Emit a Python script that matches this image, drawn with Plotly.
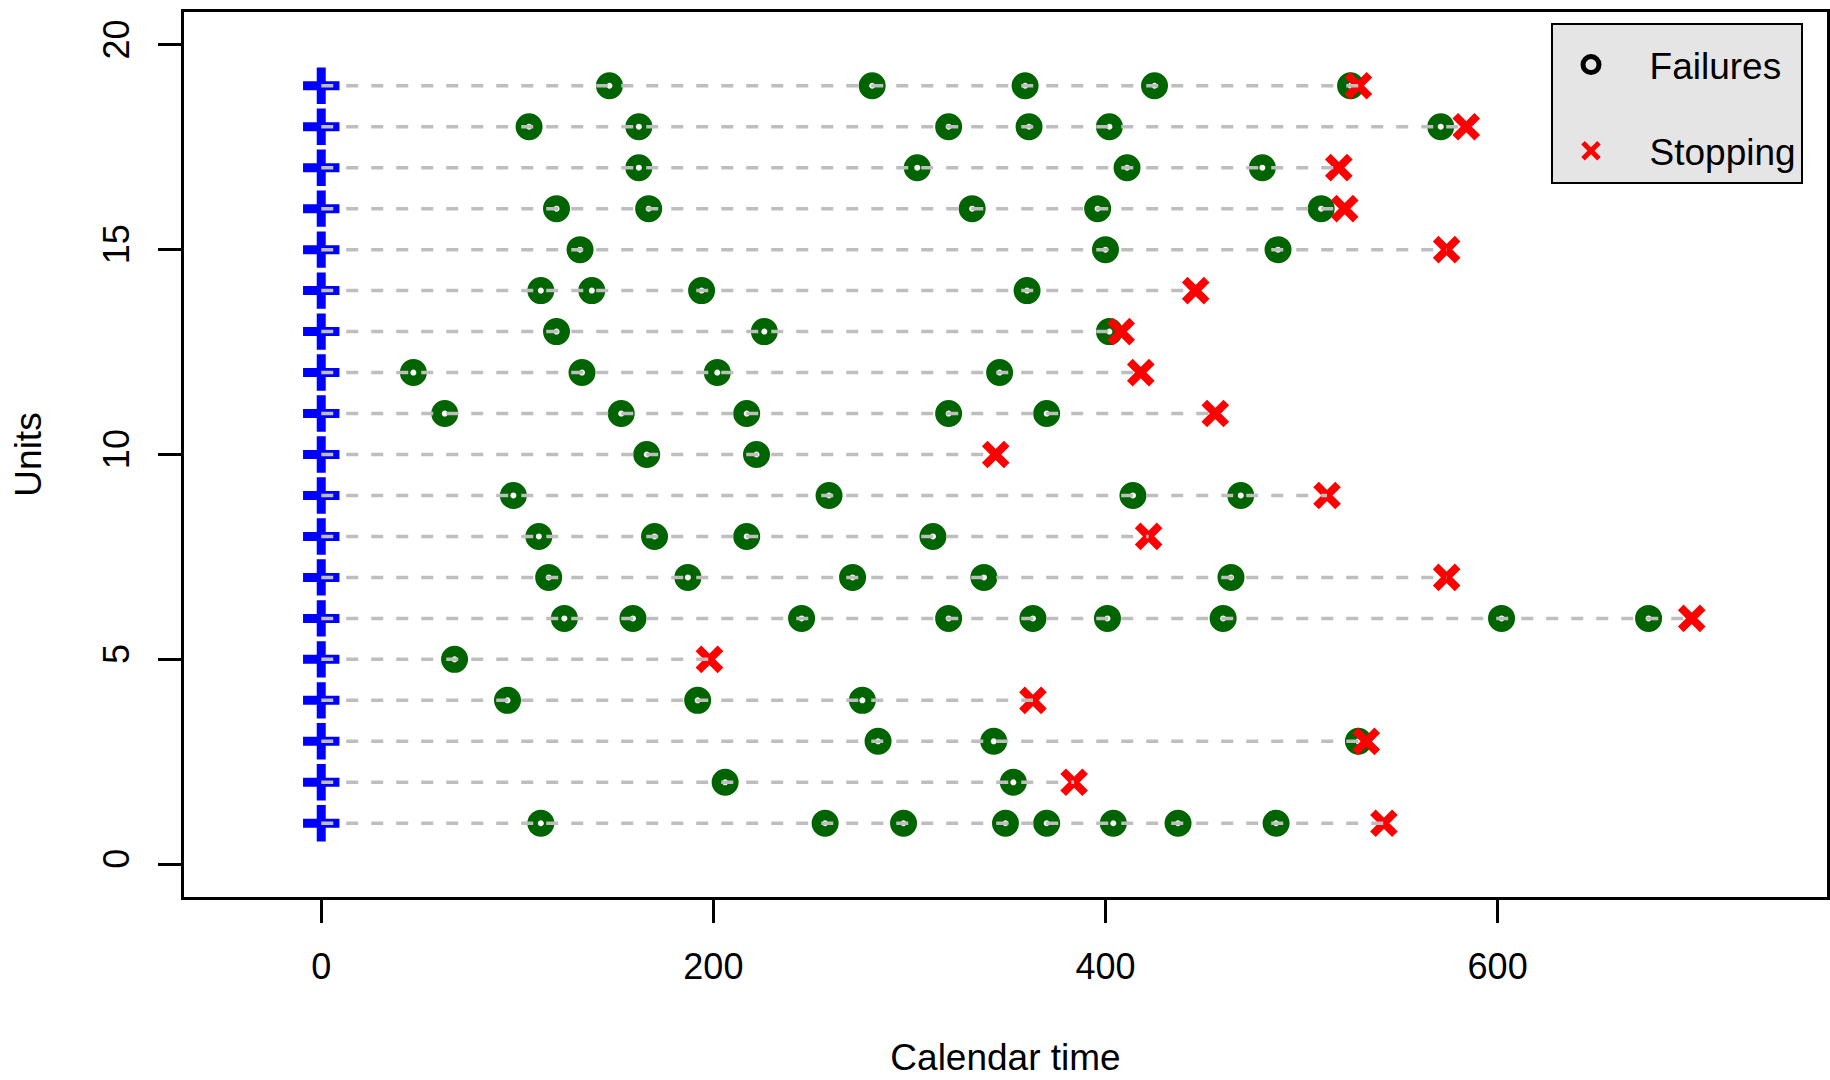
import plotly.graph_objects as go

# ---- data ----
units = list(range(1, 20))
start_times = [0] * 19
failure_times = [
    [112, 257, 297, 349, 370, 404, 437, 487],          # unit 1
    [206, 353],                                        # unit 2
    [284, 343, 529],                                   # unit 3
    [95, 192, 276],                                    # unit 4
    [68],                                              # unit 5
    [124, 159, 245, 320, 363, 401, 460, 602, 677],     # unit 6
    [116, 187, 271, 338, 464],                         # unit 7
    [111, 170, 217, 312],                              # unit 8
    [98, 259, 414, 469],                               # unit 9
    [166, 222],                                        # unit 10
    [63, 153, 217, 320, 370],                          # unit 11
    [47, 133, 202, 346],                               # unit 12
    [120, 226, 402],                                   # unit 13
    [112, 138, 194, 360],                              # unit 14
    [132, 400, 488],                                   # unit 15
    [120, 167, 332, 396, 510],                         # unit 16
    [162, 304, 411, 480],                              # unit 17
    [106, 162, 320, 361, 402, 571],                    # unit 18
    [147, 281, 359, 425, 525],                         # unit 19
]
stop_times = [542, 384, 533, 363, 198, 699, 574, 422, 513, 344,
              456, 418, 408, 446, 574, 522, 519, 584, 529]
x_ticks = [0, 200, 400, 600]
y_ticks = [0, 5, 10, 15, 20]

FONT = "Liberation Sans, Arial, Helvetica, sans-serif"
NB = "\u00a0"

fig = go.Figure()

# start markers
fig.add_trace(go.Scatter(
    x=start_times, y=units, mode="markers", showlegend=False, hoverinfo="skip",
    marker=dict(symbol="cross-thin", size=26, color="blue",
                line=dict(color="blue", width=9)),
))

# failures
fx, fy = [], []
for u, times in zip(units, failure_times):
    for t in times:
        fx.append(t)
        fy.append(u)
fig.add_trace(go.Scatter(
    x=fx, y=fy, mode="markers", showlegend=False,
    marker=dict(symbol="circle-open", size=16.5, color="#006400",
                line=dict(color="#006400", width=10.5)),
))

# stopping times
fig.add_trace(go.Scatter(
    x=stop_times, y=units, mode="markers", showlegend=False,
    marker=dict(symbol="x-thin", size=22, color="red",
                line=dict(color="red", width=8)),
))

# dashed observation lines
lx, ly = [], []
for u, s, e in zip(units, start_times, stop_times):
    lx += [s, e, None]
    ly += [u, u, None]
fig.add_trace(go.Scatter(
    x=lx, y=ly, mode="lines", showlegend=False, hoverinfo="skip",
    line=dict(color="#BEBEBE", width=3.5, dash="12px,13px"),
))

# legend entries
fig.add_trace(go.Scatter(
    x=[None], y=[None], mode="markers", name=NB * 2 + "Failures", legendgroup="a",
    marker=dict(symbol="circle-open", size=16, color="black",
                line=dict(color="black", width=5)),
))
fig.add_trace(go.Scatter(
    x=[None], y=[None], mode="markers", name=NB * 2 + "Stopping", legendgroup="b",
    marker=dict(symbol="x-thin", size=16, color="red",
                line=dict(color="red", width=5)),
))

axis_common = dict(
    showgrid=False, zeroline=False, showline=True, mirror=True,
    linecolor="black", linewidth=3, ticks="outside", ticklen=23,
    tickwidth=3, tickcolor="black",
    tickfont=dict(family=FONT, size=36, color="black"),
)

fig.update_layout(
    width=1830, height=1080,
    margin=dict(l=184, r=0, t=12, b=183),
    paper_bgcolor="white", plot_bgcolor="white",
    font=dict(family=FONT, size=36, color="black"),
    xaxis=dict(range=[-70, 768], tickvals=x_ticks, ticklabelstandoff=13,
               title=dict(text="Calendar time", standoff=58,
                          font=dict(family=FONT, size=37)),
               **axis_common),
    yaxis=dict(range=[-0.8, 20.8], tickvals=y_ticks, tickangle=-90,
               ticklabelstandoff=15,
               title=dict(text="Units", standoff=43,
                          font=dict(family=FONT, size=37)),
               **axis_common),
    legend=dict(x=0.9854, xanchor="right", y=0.9876, yanchor="top",
                bgcolor="#E5E5E5", bordercolor="black", borderwidth=2,
                font=dict(family=FONT, size=37, color="black"),
                title=dict(text=NB, font=dict(size=7)),
                tracegroupgap=35, itemwidth=66),
)

fig.write_html("out.html", config={"displayModeBar": False},
               post_script="document.body.style.margin='0';")
